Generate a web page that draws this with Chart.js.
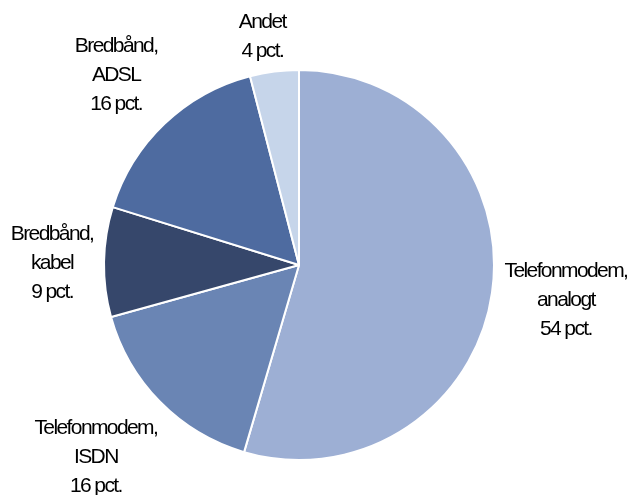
<!DOCTYPE html>
<html>
<head>
<meta charset="utf-8">
<script src="https://cdn.jsdelivr.net/npm/chart.js@4"></script>
<style>
  html, body { margin: 0; padding: 0; background: #fff; }
  #wrap { width: 628px; height: 495px; }
</style>
</head>
<body>
<div id="wrap"><canvas id="myChart" width="628" height="495"></canvas></div>
<script>
const labels = [
  ['Telefonmodem,', 'analogt'],
  ['Telefonmodem,', 'ISDN'],
  ['Bredbånd,', 'kabel'],
  ['Bredbånd,', 'ADSL'],
  ['Andet']
];
const values = [54, 16, 9, 16, 4];
const colors = ['#9DAFD4', '#6A85B4', '#36476B', '#4E6BA0', '#C6D5EA'];
// label placement: extra distance from the pie edge, small angle nudge (deg)
const labelGap = [74, 83, 52, 70, 38];
const labelTurn = [-1, 1.5, 0, 0, -1.8];

const sliceLabels = {
  id: 'sliceLabels',
  afterDraw(chart) {
    const ctx = chart.ctx;
    const arcs = chart.getDatasetMeta(0).data;
    ctx.save();
    ctx.font = '21px "Liberation Sans", Arial, sans-serif';
    ctx.letterSpacing = '-1.6px';
    ctx.fillStyle = '#000';
    ctx.textAlign = 'center';
    ctx.textBaseline = 'middle';
    arcs.forEach(function (arc, i) {
      const mid = (arc.startAngle + arc.endAngle) / 2 + labelTurn[i] * Math.PI / 180;
      const r = arc.outerRadius + labelGap[i];
      const cx = arc.x + Math.cos(mid) * r;
      const cy = arc.y + Math.sin(mid) * r + 2;
      const lines = labels[i].concat([values[i] + ' pct.']);
      const lh = 29;
      lines.forEach(function (line, j) {
        ctx.fillText(line, cx, cy + (j - (lines.length - 1) / 2) * lh);
      });
    });
    ctx.restore();
  }
};

const ctx = document.getElementById('myChart').getContext('2d');
const myChart = new Chart(ctx, {
  type: 'pie',
  data: {
    labels: labels.map(l => l.join(' ')),
    datasets: [{
      data: values,
      backgroundColor: colors,
      borderColor: '#fff',
      borderWidth: 2
    }]
  },
  options: {
    responsive: false,
    animation: false,
    layout: { padding: { top: 69, bottom: 34, left: 103, right: 133 } },
    plugins: {
      legend: { display: false },
      tooltip: { enabled: false }
    }
  },
  plugins: [sliceLabels]
});
</script>
</body>
</html>
